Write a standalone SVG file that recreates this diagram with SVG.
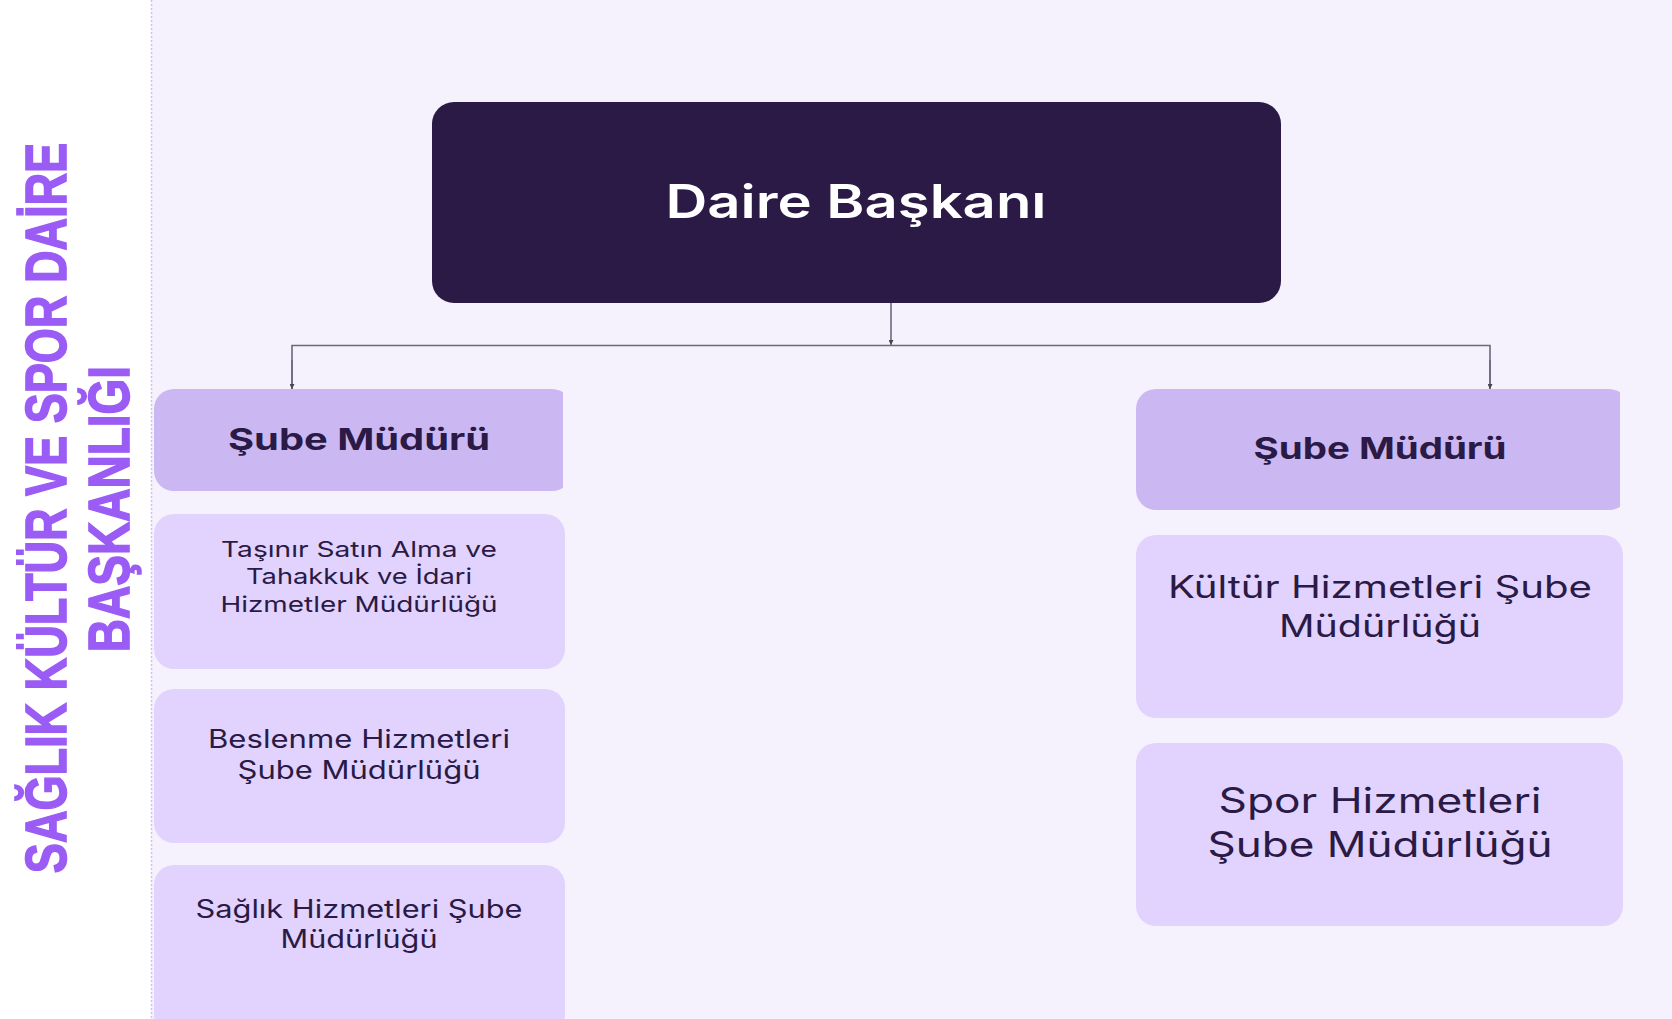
<svg xmlns="http://www.w3.org/2000/svg" width="1672" height="1019" viewBox="0 0 1672 1019">
<defs>
<style>
.bg{fill:#f5f2fd}
.side{fill:#ffffff}
.top{fill:#2a1a45}
.head{fill:#cbb8f3}
.unit{fill:#e1d3fd}
.t{font-family:Inter,"Noto Sans","Liberation Sans",sans-serif;fill:#2a1a45;text-anchor:middle}
.tb{font-weight:700}
.title{font-family:"Liberation Sans","DejaVu Sans",sans-serif;font-weight:700;fill:#9a5cf5;stroke:#9a5cf5;stroke-width:1.6;text-anchor:middle;font-size:58px}
.conn{stroke:#6e6780;stroke-width:1.6;fill:none}
</style>
<clipPath id="clipL"><rect x="0" y="0" width="563" height="1019"/></clipPath>
<clipPath id="clipR"><rect x="0" y="0" width="1620" height="1019"/></clipPath>
<marker id="arr" viewBox="0 0 10 10" refX="10" refY="5" markerWidth="5" markerHeight="5" orient="auto" markerUnits="userSpaceOnUse">
<path d="M0,0 L10,5 L0,10 z" fill="#4a4358"/>
</marker>
</defs>
<rect class="bg" x="0" y="0" width="1672" height="1019"/>
<rect class="side" x="0" y="0" width="151" height="1019"/>
<line x1="151.5" y1="0" x2="151.5" y2="1019" stroke="#cfc3f0" stroke-width="1.5" stroke-dasharray="2,2"/>

<g id="title">
<text class="title" transform="translate(66,508) rotate(-90) scale(0.68,1)" textLength="1074" lengthAdjust="spacingAndGlyphs">SAĞLIK KÜLTÜR VE SPOR DAİRE</text>
<text class="title" transform="translate(129,509) rotate(-90) scale(0.68,1)" textLength="421" lengthAdjust="spacingAndGlyphs">BAŞKANLIĞI</text>
</g>

<g id="connectors">
<line class="conn" x1="891" y1="303" x2="891" y2="345" marker-end="url(#arr)"/>
<polyline class="conn" points="292,389 292,345.5 1490,345.5 1490,389"/>
<line class="conn" x1="292" y1="360" x2="292" y2="389" marker-end="url(#arr)"/>
<line class="conn" x1="1490" y1="360" x2="1490" y2="389" marker-end="url(#arr)"/>
</g>

<g id="daire-baskani">
<rect class="top" x="432" y="102" width="849" height="201" rx="22"/>
<text class="t" x="856" y="218" font-size="46" font-weight="600" style="fill:#ffffff" textLength="381" lengthAdjust="spacingAndGlyphs">Daire Başkanı</text>
</g>

<g id="sube-muduru-sol">
<rect class="head" x="154" y="389" width="418" height="102" rx="20" clip-path="url(#clipL)"/>
<text class="t tb" x="359" y="450" font-size="30" textLength="262" lengthAdjust="spacingAndGlyphs">Şube Müdürü</text>
</g>

<g id="tasinir">
<rect class="unit" x="154" y="514" width="411" height="155" rx="20"/>
<text class="t" x="359" y="557" font-size="22" textLength="276" lengthAdjust="spacingAndGlyphs">Taşınır Satın Alma ve</text>
<text class="t" x="359" y="584" font-size="22" textLength="226" lengthAdjust="spacingAndGlyphs">Tahakkuk ve İdari</text>
<text class="t" x="359" y="612" font-size="22" textLength="277" lengthAdjust="spacingAndGlyphs">Hizmetler Müdürlüğü</text>
</g>

<g id="beslenme">
<rect class="unit" x="154" y="689" width="411" height="154" rx="20"/>
<text class="t" x="359" y="748" font-size="25" textLength="302" lengthAdjust="spacingAndGlyphs">Beslenme Hizmetleri</text>
<text class="t" x="359" y="779" font-size="25" textLength="243" lengthAdjust="spacingAndGlyphs">Şube Müdürlüğü</text>
</g>

<g id="saglik">
<rect class="unit" x="154" y="865" width="411" height="170" rx="20"/>
<text class="t" x="359" y="918" font-size="25" textLength="327" lengthAdjust="spacingAndGlyphs">Sağlık Hizmetleri Şube</text>
<text class="t" x="359" y="948" font-size="25" textLength="157" lengthAdjust="spacingAndGlyphs">Müdürlüğü</text>
</g>

<g id="sube-muduru-sag">
<rect class="head" x="1136" y="389" width="493" height="121" rx="20" clip-path="url(#clipR)"/>
<text class="t tb" x="1380" y="459" font-size="30" textLength="253" lengthAdjust="spacingAndGlyphs">Şube Müdürü</text>
</g>

<g id="kultur">
<rect class="unit" x="1136" y="535" width="487" height="183" rx="20"/>
<text class="t" x="1380" y="598" font-size="31" textLength="424" lengthAdjust="spacingAndGlyphs">Kültür Hizmetleri Şube</text>
<text class="t" x="1380" y="637" font-size="31" textLength="202" lengthAdjust="spacingAndGlyphs">Müdürlüğü</text>
</g>

<g id="spor">
<rect class="unit" x="1136" y="743" width="487" height="183" rx="20"/>
<text class="t" x="1380" y="813" font-size="35" textLength="323" lengthAdjust="spacingAndGlyphs">Spor Hizmetleri</text>
<text class="t" x="1380" y="857" font-size="35" textLength="345" lengthAdjust="spacingAndGlyphs">Şube Müdürlüğü</text>
</g>
</svg>
